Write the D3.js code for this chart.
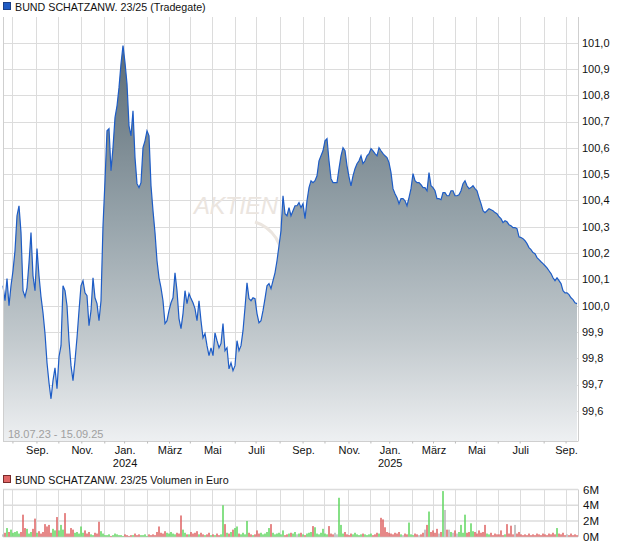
<!DOCTYPE html>
<html><head><meta charset="utf-8">
<script src="https://cdn.jsdelivr.net/npm/d3@7"></script>
<style>
body{margin:0;background:#fff;}
svg{display:block;font-family:"Liberation Sans",Arial,sans-serif;}
</style>
</head><body>
<svg id="c" width="620" height="546"></svg>
<script>
// ---------------- data ----------------
const title = "BUND SCHATZANW. 23/25 (Tradegate)";
const volTitle = "BUND SCHATZANW. 23/25 Volumen in Euro";
const rangeLabel = "18.07.23 - 15.09.25";
const startDate = "2023-07-18";
const endDate = "2025-09-15";
const holidays = ["2023-12-25","2023-12-26","2024-01-01","2024-03-29","2024-04-01","2024-05-01",
  "2024-12-24","2024-12-25","2024-12-26","2024-12-31","2025-01-01","2025-04-18","2025-04-21","2025-05-01"];
const priceTicks = [99.6,99.7,99.8,99.9,100.0,100.1,100.2,100.3,100.4,100.5,100.6,100.7,100.8,100.9,101.0];
const volumeTicks = [0,2,4,6];
const monthTicks = ["2023-09-01","2023-11-01","2024-01-01","2024-03-01","2024-05-01","2024-07-01",
  "2024-09-01","2024-11-01","2025-01-01","2025-03-01","2025-05-01","2025-07-01","2025-09-01"];
const monthTickLabels = ["Sep.","Nov.","Jan.","März","Mai","Juli","Sep.","Nov.","Jan.","März","Mai","Juli","Sep."];
const yearTicks = ["2024-01-01","2025-01-01"];
const yearTickLabels = ["2024","2025"];

// closing prices, evenly spaced samples over the trading days of the period
const prices = [
100.076,100.019,100.103,100.000,100.076,100.133,100.209,100.342,100.380,100.278,100.057,100.034,100.068,100.163,100.278,100.114,
100.057,100.217,100.114,100.034,99.973,99.894,99.783,99.707,99.646,99.715,99.764,99.684,99.806,99.848,100.076,100.057,
100.000,99.867,99.772,99.715,99.791,99.878,99.981,100.076,100.095,100.049,100.038,99.924,99.981,100.106,100.030,100.008,
99.943,100.019,100.304,100.475,100.665,100.673,100.513,100.601,100.715,100.760,100.829,100.920,100.989,100.924,100.844,100.684,
100.646,100.741,100.563,100.464,100.449,100.468,100.601,100.627,100.665,100.646,100.456,100.361,100.278,100.171,100.106,100.068,
100.019,99.932,99.943,99.981,100.011,100.030,100.125,100.057,99.951,99.913,99.970,100.057,100.008,100.046,100.027,100.011,
99.989,99.943,100.019,99.943,99.878,99.894,99.848,99.810,99.840,99.810,99.897,99.867,99.840,99.856,99.932,99.829,
99.840,99.760,99.783,99.753,99.772,99.867,99.829,99.848,99.905,99.992,100.087,100.027,100.019,100.030,100.027,99.970,
99.935,99.943,99.981,100.027,100.076,100.084,100.065,100.095,100.125,100.171,100.228,100.285,100.418,100.350,100.342,100.373,
100.342,100.361,100.380,100.380,100.392,100.373,100.388,100.331,100.399,100.449,100.475,100.468,100.475,100.494,100.551,100.570,
100.589,100.627,100.635,100.551,100.483,100.468,100.468,100.468,100.521,100.570,100.601,100.589,100.532,100.490,100.456,100.494,
100.521,100.540,100.551,100.570,100.540,100.551,100.570,100.578,100.597,100.589,100.578,100.570,100.601,100.589,100.578,100.570,
100.563,100.544,100.506,100.445,100.426,100.411,100.388,100.407,100.407,100.399,100.380,100.411,100.445,100.502,100.475,100.468,
100.468,100.460,100.449,100.449,100.437,100.506,100.456,100.449,100.437,100.407,100.407,100.403,100.430,100.430,100.418,100.418,
100.437,100.437,100.418,100.418,100.422,100.437,100.464,100.475,100.456,100.445,100.449,100.456,100.445,100.437,100.411,100.388,
100.361,100.354,100.361,100.369,100.365,100.361,100.354,100.350,100.338,100.331,100.316,100.323,100.319,100.308,100.304,100.297,
100.297,100.293,100.262,100.259,100.255,100.247,100.236,100.221,100.213,100.202,100.198,100.183,100.175,100.167,100.160,100.152,
100.144,100.133,100.122,100.106,100.095,100.106,100.095,100.084,100.057,100.049,100.049,100.042,100.030,100.023,100.011,100.008
];

// volume in million euro, same sampling as prices
const volumes = [
0.3,0.5,1.1,0.6,0.9,0.5,0.6,0.7,0.4,0.6,2.8,1.1,1.0,0.4,0.6,1.0,
2.3,0.5,0.7,0.4,0.6,1.6,1.3,1.5,0.5,1.0,0.8,2.5,0.8,1.5,0.9,3.0,
0.4,0.4,1.1,0.9,0.5,0.6,0.4,1.3,0.5,0.8,0.4,0.6,0.3,0.2,0.5,0.4,
1.9,0.7,0.4,0.2,0.2,0.3,0.1,0.2,0.4,0.3,0.2,0.2,0.1,0.3,0.2,0.1,
0.2,0.2,0.4,0.2,0.3,0.2,0.2,0.3,0.1,0.3,0.2,0.3,0.2,0.6,1.3,0.5,
0.4,0.7,0.5,0.4,0.6,0.4,0.3,0.5,0.4,2.7,0.9,0.5,0.3,0.3,0.6,0.4,
0.5,0.7,0.3,0.5,0.3,0.2,0.3,0.5,0.2,0.3,0.2,0.4,0.2,0.3,4.0,1.6,
0.5,0.4,0.6,0.9,1.1,1.3,0.4,0.3,0.5,0.3,2.0,0.5,0.3,0.2,0.3,0.8,
0.4,0.5,0.3,0.4,0.6,1.1,1.6,0.5,0.3,0.4,0.5,0.3,0.8,0.2,0.3,0.4,
0.5,0.4,0.6,0.3,0.4,0.5,0.3,0.2,0.4,0.5,0.6,1.35,1.2,0.4,0.3,0.5,
1.0,0.4,0.3,1.35,0.4,0.3,0.5,0.3,4.95,1.5,0.4,0.6,0.3,0.2,0.4,0.3,
0.5,0.3,0.2,0.3,0.4,0.3,0.2,0.3,0.4,0.2,0.3,0.5,0.4,2.4,2.2,1.2,
0.6,0.5,0.4,0.3,0.5,0.4,0.6,0.3,0.2,0.4,0.3,1.8,0.3,0.2,0.4,0.3,
0.2,0.3,0.5,0.9,1.5,3.2,0.6,0.8,0.5,1.0,0.4,0.6,5.8,3.4,0.9,0.9,
0.6,0.5,0.8,0.4,0.6,1.5,0.5,2.8,0.5,0.6,1.7,0.7,0.6,0.4,0.8,0.5,
0.6,1.5,0.4,0.3,0.5,0.2,0.4,0.3,0.3,0.8,0.2,0.3,1.6,0.4,1.4,0.3,
1.5,0.4,0.6,0.3,0.2,0.3,0.2,0.4,0.2,0.3,0.2,0.4,0.3,0.2,0.4,0.3,
0.2,0.4,0.3,0.5,0.3,1.1,0.4,0.3,0.5,0.2,0.3,0.2,0.4,0.2,0.3,0.2
];

// ---------------- layout ----------------
const plotL = 3, plotR = 578, plotT = 17, plotB = 441.5;
const lineEnd = 577;
const volT = 489.5, volB = 536.7;

const svg = d3.select("#c");
const parse = d3.utcParse("%Y-%m-%d");
const fmtDay = d3.utcFormat("%Y-%m-%d");
const holidaySet = new Set(holidays);
const tradingDays = d3.utcDays(parse(startDate), d3.utcDay.offset(parse(endDate), 1))
  .filter(d => d.getUTCDay() % 6 !== 0 && !holidaySet.has(fmtDay(d)));
const N = tradingDays.length;
const x = d3.scaleLinear().domain([0, N - 1]).range([plotL, lineEnd]);
const dayIndex = d => d3.bisectLeft(tradingDays, d);
const sampleIdx = i => i * (N - 1) / (prices.length - 1);

const y = d3.scaleLinear().domain([99.6, 101.0]).range([410.9, 42.7]);
const vy = d3.scaleLinear().domain([0, 6]).range([volB, volT]);

const gridColor = "#dcdcdc";
const months = d3.utcMonths(parse("2023-08-01"), parse("2025-09-02"));
const monthX = months.map(m => x(dayIndex(m)) - 0.5);

// ---------- legend ----------
svg.append("rect").attr("x", 3.5).attr("y", 2.5).attr("width", 7).attr("height", 7)
  .attr("fill", "#1f5bc4").attr("stroke", "#1b3f86");
svg.append("text").attr("x", 15).attr("y", 10.5).attr("font-size", 10.7).attr("fill", "#111").text(title);

// ---------- main grid ----------
const g = svg.append("g");
g.selectAll("line.vg").data(monthX).join("line")
  .attr("x1", d => d).attr("x2", d => d).attr("y1", plotT).attr("y2", plotB)
  .attr("stroke", gridColor).attr("shape-rendering", "crispEdges");
g.selectAll("line.hg").data(priceTicks).join("line")
  .attr("x1", plotL).attr("x2", plotR).attr("y1", d => Math.round(y(d)) + 0.5).attr("y2", d => Math.round(y(d)) + 0.5)
  .attr("stroke", gridColor);

// watermark
svg.append("text").attr("x", 194).attr("y", 214).attr("font-size", 24).attr("font-style", "italic")
  .attr("fill", "#ebe5df").attr("letter-spacing", -0.5).text("AKTIEN");
svg.append("path").attr("d", "M255,222 Q268,226 276,238 L280,246")
  .attr("fill", "none").attr("stroke", "#ebe5df").attr("stroke-width", 3);

// ---------- area + line ----------
const defs = svg.append("defs");
const grad = defs.append("linearGradient").attr("id", "ag").attr("gradientUnits", "userSpaceOnUse")
  .attr("x1", 0).attr("x2", 0).attr("y1", 42).attr("y2", plotB);
grad.append("stop").attr("offset", 0).attr("stop-color", "#5b6b75");
grad.append("stop").attr("offset", 0.45).attr("stop-color", "#97a4ab");
grad.append("stop").attr("offset", 0.75).attr("stop-color", "#c3cace");
grad.append("stop").attr("offset", 1).attr("stop-color", "#eef0f2");

const pts = prices.map((v, i) => ({ i: sampleIdx(i), v }));
svg.append("path").datum(pts)
  .attr("d", d3.area().x(d => x(d.i)).y0(plotB).y1(d => y(d.v)))
  .attr("fill", "url(#ag)");
svg.append("path").datum(pts)
  .attr("d", d3.line().x(d => x(d.i)).y(d => y(d.v)))
  .attr("fill", "none").attr("stroke", "#1d5cc6").attr("stroke-width", 1.2).attr("stroke-linejoin", "miter");

// borders
svg.append("line").attr("x1", plotL + 0.5).attr("x2", plotL + 0.5).attr("y1", plotT).attr("y2", plotB).attr("stroke", "#cfcfcf");
svg.append("line").attr("x1", plotR + 0.5).attr("x2", plotR + 0.5).attr("y1", plotT).attr("y2", plotB).attr("stroke", "#cfcfcf");
svg.append("line").attr("x1", plotL).attr("x2", plotR).attr("y1", plotB).attr("y2", plotB).attr("stroke", "#cfcfcf");
svg.selectAll("line.mt").data(monthX).join("line")
  .attr("x1", d => d).attr("x2", d => d).attr("y1", plotB).attr("y2", plotB + 2).attr("stroke", "#bbb");

svg.append("text").attr("x", 8).attr("y", 438).attr("font-size", 11).attr("fill", "#a0a0a0").text(rangeLabel);

// y labels
svg.selectAll("text.yl").data(priceTicks).join("text")
  .attr("x", 582).attr("y", d => y(d)).attr("dy", "0.35em").attr("font-size", 11).attr("fill", "#111")
  .text(d => d3.format(".1f")(d).replace(".", ","));

// x labels
svg.selectAll("text.xl").data(monthTicks).join("text")
  .attr("x", (d) => x(dayIndex(parse(d)))).attr("y", 454).attr("text-anchor", "middle")
  .attr("font-size", 11).attr("fill", "#111").text((d, i) => monthTickLabels[i]);
svg.selectAll("text.yrl").data(yearTicks).join("text")
  .attr("x", d => x(dayIndex(parse(d)))).attr("y", 467).attr("text-anchor", "middle")
  .attr("font-size", 11).attr("fill", "#111").text((d, i) => yearTickLabels[i]);

// ---------- volume panel ----------
svg.append("rect").attr("x", 3.5).attr("y", 475.5).attr("width", 7).attr("height", 7)
  .attr("fill", "#e06666").attr("stroke", "#7a2b2b");
svg.append("text").attr("x", 15).attr("y", 483.5).attr("font-size", 10.7).attr("fill", "#111").text(volTitle);

svg.selectAll("line.vvg").data(monthX).join("line")
  .attr("x1", d => d).attr("x2", d => d).attr("y1", volT).attr("y2", volB)
  .attr("stroke", gridColor).attr("shape-rendering", "crispEdges");
svg.selectAll("line.vhg").data(volumeTicks).join("line")
  .attr("x1", plotL).attr("x2", plotR).attr("y1", d => vy(d)).attr("y2", d => vy(d))
  .attr("stroke", gridColor).attr("stroke-width", 1.4);
svg.append("line").attr("x1", plotL + 0.5).attr("x2", plotL + 0.5).attr("y1", volT).attr("y2", volB).attr("stroke", "#cfcfcf");
svg.append("line").attr("x1", plotR + 0.5).attr("x2", plotR + 0.5).attr("y1", volT).attr("y2", volB).attr("stroke", "#cfcfcf");

const bw = 1.5;
svg.selectAll("rect.vb").data(volumes).join("rect")
  .attr("x", (d, i) => x(sampleIdx(i)) - bw / 2).attr("width", bw)
  .attr("y", d => vy(d)).attr("height", d => vy(0) - vy(d))
  .attr("fill", (d, i) => i === 0 || prices[i] === prices[i - 1] ? "#b4b4b4" : (prices[i] > prices[i - 1] ? "#5fd65f" : "#de6262"));

svg.selectAll("text.vl").data(volumeTicks).join("text")
  .attr("x", 583).attr("y", d => vy(d)).attr("dy", "0.35em").attr("font-size", 11.5).attr("fill", "#111")
  .text(d => d + "M");
</script>
</body></html>
